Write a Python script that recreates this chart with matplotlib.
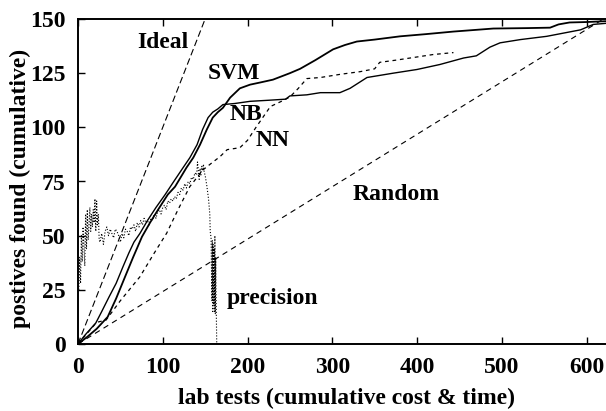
import matplotlib
matplotlib.use('Agg')
import matplotlib.pyplot as plt

plt.rcParams['font.family'] = ['Liberation Serif', 'DejaVu Serif']
plt.rcParams['font.weight'] = 'bold'

# ============ data ============
ideal_x = [0, 150, 625]
ideal_y = [0, 150, 150]

random_x = [0, 620]
random_y = [0, 150]

svm_x = [0, 10, 22, 35, 45, 55.5, 65, 75.5, 85, 94.5, 106, 114.5, 128, 136, 144, 152, 159, 165,
         171, 179.5, 191, 203, 215, 230, 250, 262, 280, 301, 315, 329, 350, 380,
         410, 443, 470, 490, 530, 557, 567, 580, 600, 623]
svm_y = [0, 3, 7, 12.5, 21, 31, 40, 49.5, 56, 62, 69, 72.6, 81.4, 86, 92, 99, 104.5, 107,
         109, 113.7, 118, 119.7, 120.7, 122, 125, 127, 131, 136, 138, 139.6, 140.5, 142,
         143, 144.2, 145, 145.6, 145.8, 146, 147.5, 148.4, 148.6, 149]

nb_x = [0, 8, 21, 28, 36.6, 45, 53, 60, 66, 73, 82, 92, 102.7, 113, 124, 132,
        140.5, 147, 153.5, 159, 165, 171, 185, 203, 225, 245, 250, 270, 286, 309,
        321, 341, 372, 400, 427, 455, 470, 486, 498, 522, 553, 577, 593, 608, 623]
nb_y = [0, 4, 9.7, 15, 21.7, 28, 35.6, 42, 47, 51, 57, 63, 68.9, 75, 81.4, 86,
        92, 99, 104.5, 107, 108.5, 110.5, 111, 112, 112.5, 113, 114.5, 115, 116, 116,
        118, 123, 125, 126.7, 129, 132, 133, 137, 139, 140.5, 142, 143.8, 145, 147.5, 148]

nn_x = [0, 22, 33, 50, 73, 90, 104.7, 118, 132, 147.6, 156, 167.6, 176, 191, 200,
        210, 227, 240, 250, 260, 270, 286, 310, 333, 350, 356, 375, 392, 419, 443]
nn_y = [0, 10, 11, 20, 31, 42, 51.2, 62, 72.7, 80.4, 83, 86.5, 89.7, 90.6, 94,
        100, 109.6, 112, 114, 118, 122.5, 123, 124.5, 125.7, 127, 130, 131, 132, 133.6, 134.5]

prec_x = [1, 2, 3, 4, 5, 6, 7, 8, 9, 10, 11, 12, 13, 14, 15, 16, 17, 18, 19, 20,
          21, 22, 23, 24, 25, 26, 28, 30, 32, 34, 36, 38, 40, 42, 44, 46, 48, 50,
          52, 54, 56, 58, 60, 62, 64, 66, 68, 70, 72, 74, 76, 78, 80, 82, 84, 86,
          88, 90, 92, 94, 96, 98, 100, 102, 104, 106, 108, 110, 112, 114, 116, 118,
          120, 122, 124, 126, 128, 130, 132, 134, 136, 138, 140, 141, 142, 143, 144,
          145, 146, 147, 148, 149, 150, 152, 154, 155.5, 156, 157, 158, 158.5, 159,
          159.5, 160, 160.5, 161, 161.5, 162, 162.5, 163, 163.7]
prec_y = [25, 40, 28, 50, 38, 54, 45, 36, 60, 44, 62, 48, 55, 63, 52, 60, 54, 62, 56, 67,
          52, 66, 55, 60, 48, 47, 51, 46, 52, 54, 50, 53, 51, 49, 53, 52, 50, 47,
          51, 49, 53, 52, 50, 54, 53, 55, 52, 56, 54, 57, 55, 58, 56, 57, 55, 58,
          57, 60, 58, 61, 62, 60, 63, 64, 62, 66, 65, 67, 66, 68, 67, 70,
          69, 72, 71, 74, 72, 75, 74, 77, 76, 79, 78, 84, 80, 76, 81,
          78, 82, 80, 83, 79, 78, 73, 67, 60, 52, 49, 20, 48, 15,
          46, 18, 44, 15, 50, 14, 40, 20, 0]

x_ticks = [0, 100, 200, 300, 400, 500, 600]
y_ticks = [0, 25, 50, 75, 100, 125, 150]


def main():
    fig = plt.figure(figsize=(6.06, 4.11), dpi=100)
    ax = fig.add_axes([78 / 606, 67 / 411, 528 / 606, 325 / 411])

    ax.plot(ideal_x, ideal_y, color='black', lw=0.8, dashes=(6, 3))
    ax.plot(random_x, random_y, color='black', lw=0.8, dashes=(5, 4))
    ax.plot(svm_x, svm_y, color='black', lw=1.3)
    ax.plot(nb_x, nb_y, color='black', lw=1.0)
    ax.plot(nn_x, nn_y, color='black', lw=0.9, dashes=(3, 3))
    ax.plot(prec_x, prec_y, color='black', lw=0.8, linestyle=':')

    ax.set_xlim(0, 623)
    ax.set_ylim(0, 150)
    ax.set_xticks(x_ticks)
    ax.set_yticks(y_ticks)
    ax.tick_params(direction='in', length=5, width=1.0, top=True, right=False,
                   labelsize=17, pad=9)
    for lab in ax.get_xticklabels() + ax.get_yticklabels():
        lab.set_fontweight('bold')
    for side in ['left', 'bottom', 'top']:
        ax.spines[side].set_linewidth(1.4)
    ax.spines['right'].set_visible(False)

    # curve names
    fs = 17
    ax.text(100, 139, 'Ideal', ha='center', va='center', fontsize=fs, fontweight='bold')
    ax.text(184, 125, 'SVM', ha='center', va='center', fontsize=fs, fontweight='bold')
    ax.text(198, 106, 'NB', ha='center', va='center', fontsize=fs, fontweight='bold')
    ax.text(230, 94, 'NN', ha='center', va='center', fontsize=fs, fontweight='bold')
    ax.text(375, 69, 'Random', ha='center', va='center', fontsize=fs, fontweight='bold')
    ax.text(229, 21, 'precision', ha='center', va='center', fontsize=fs, fontweight='bold')

    fig.text(346 / 606, 1 - 398 / 411, 'lab tests (cumulative cost & time)',
             ha='center', va='center', fontsize=fs, fontweight='bold')
    fig.text(20 / 606, 1 - 188 / 411, 'postives found (cumulative)', rotation=90,
             ha='center', va='center', fontsize=fs, fontweight='bold')

    fig.savefig('out.png', dpi=100)
    plt.close(fig)


if __name__ == '__main__':
    main()
